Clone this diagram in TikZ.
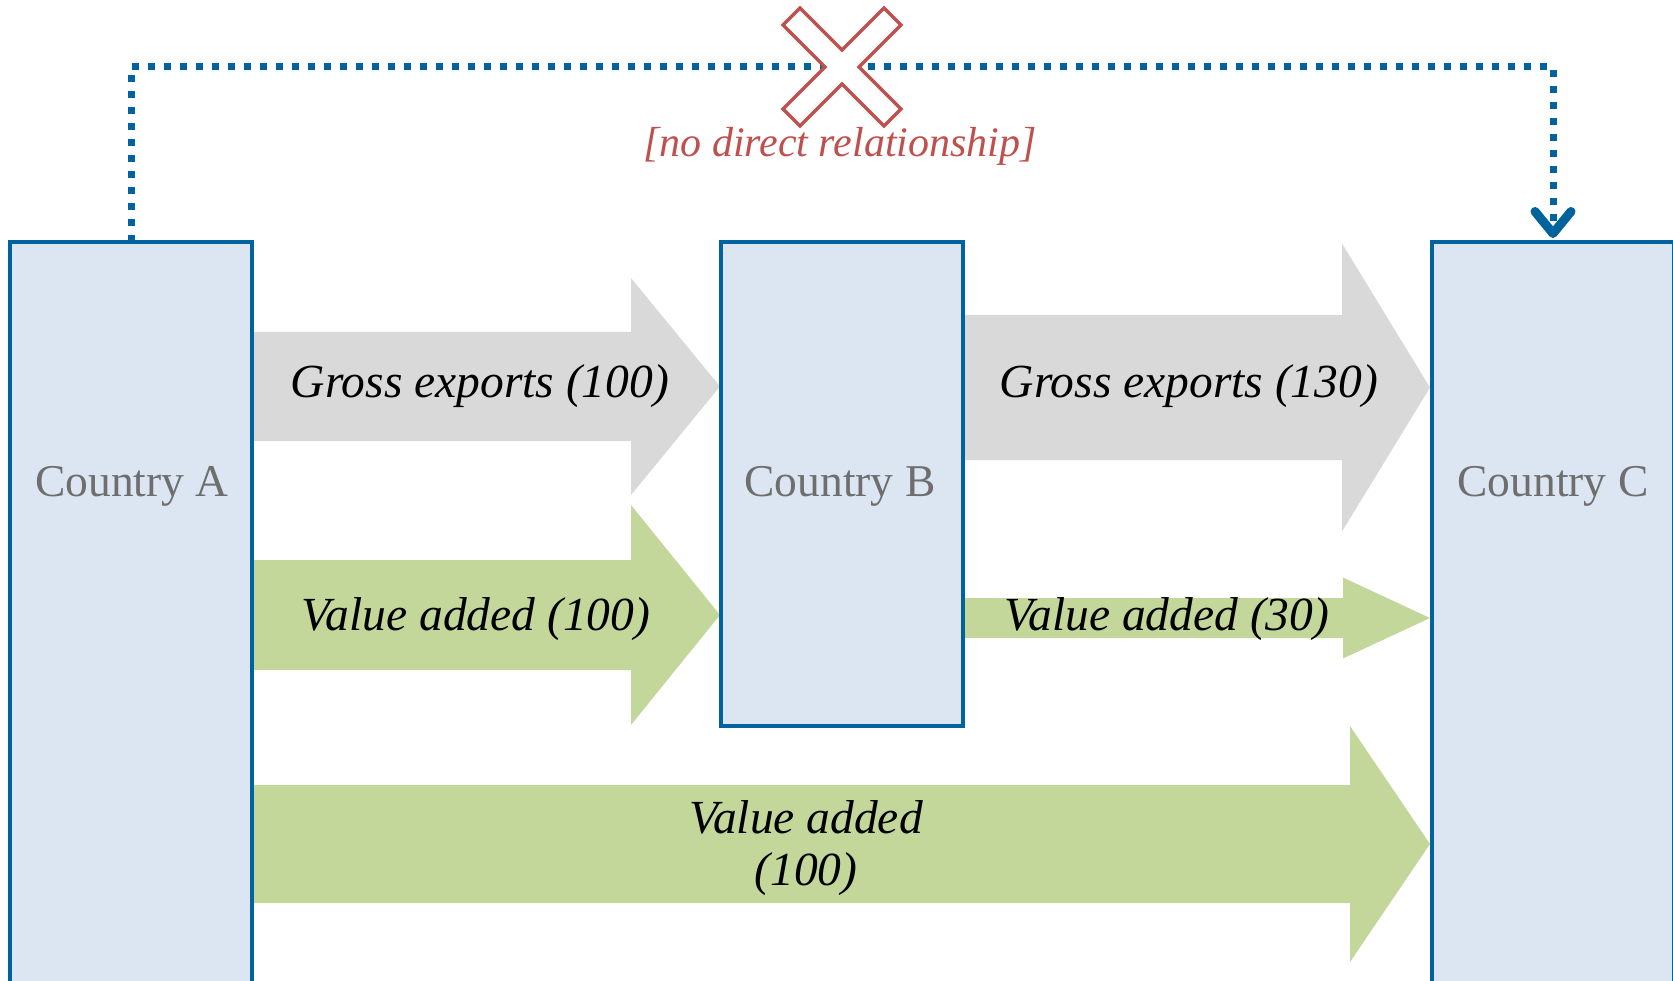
\documentclass[tikz,border=0pt]{standalone}
\usepackage{fontspec}
\setmainfont{Liberation Serif}
\usetikzlibrary{arrows.meta}
\definecolor{boxblue}{RGB}{220,230,242}
\definecolor{borderblue}{RGB}{0,99,158}
\definecolor{arrgray}{RGB}{217,217,217}
\definecolor{arrgreen}{RGB}{196,215,155}
\definecolor{txtgray}{RGB}{110,110,110}
\definecolor{xred}{RGB}{192,80,77}
% style, x0, xhead, xtip, yc, bodyhalf, headhalf
\newcommand\blockarrow[7]{%
  \fill[#1] (#2,#5-#6) -- (#3,#5-#6) -- (#3,#5-#7) -- (#4,#5) -- (#3,#5+#7) -- (#3,#5+#6) -- (#2,#5+#6) -- cycle;}
\begin{document}
\begin{tikzpicture}[x=1pt,y=-1pt,
  country/.style={draw=borderblue, fill=boxblue, line width=3.5pt, minimum width=242pt, inner sep=0pt, outer sep=0pt},
  grayarrow/.style={fill=arrgray},
  greenarrow/.style={fill=arrgreen},
  lbl/.style={font=\fontsize{47.5}{52}\selectfont\itshape, text=black, inner sep=0pt},
  ctext/.style={font=\fontsize{45.5}{52}\selectfont, text=txtgray, inner sep=0pt},
  redtext/.style={font=\fontsize{42}{48}\selectfont\itshape, text=xred, inner sep=0pt},
  dotline/.style={draw=borderblue, line width=7pt, dash pattern=on 7pt off 9pt}]
\useasboundingbox (0,0) rectangle (1673,981);
\clip (0,0) rectangle (1673,981);
% block arrows
\blockarrow{grayarrow}{250}{631}{720}{386.5}{54.5}{108.5}
\blockarrow{greenarrow}{250}{631}{720}{615}{55}{110}
\blockarrow{grayarrow}{961}{1342}{1430}{387.5}{72.5}{144}
\blockarrow{greenarrow}{961}{1343}{1430}{618}{20}{40.5}
\blockarrow{greenarrow}{250}{1350}{1430}{844}{59}{118}
% country boxes
\node[country, minimum height=760pt] (A) at (131,622) {};
\node[country, minimum height=484pt] (B) at (842,484) {};
\node[country, minimum height=760pt] (C) at (1553,622) {};
\node[ctext, anchor=base] (At) at (132,496) {Country A};
\node[ctext, anchor=base] (Bt) at (840,496) {Country B};
\node[ctext, anchor=base] (Ct) at (1553,496) {Country C};
% labels
\node[lbl, anchor=base] (g1) at (480,398) {Gross exports (100)};
\node[lbl, anchor=base] (v1) at (476,630) {Value added (100)};
\node[lbl, anchor=base] (g2) at (1189,398) {Gross exports (130)};
\node[lbl, anchor=base] (v2) at (1167,630) {Value added (30)};
\node[lbl, align=center] (v3) at (806,848) {Value added\\(100)};
% dotted relation
\draw[dotline, -{Straight Barb[length=22pt,width=36pt,line width=9pt,line cap=round,line join=round]}] (A.north) -- ++(0,-175) -| ([yshift=4pt]C.north);
% cross
\draw[xred, line width=3.5pt, fill=white, shift={(842,67)}]
  (0,-17) -- (42,-59) -- (59,-42) -- (17,0) -- (59,42) -- (42,59) -- (0,17)
  -- (-42,59) -- (-59,42) -- (-17,0) -- (-59,-42) -- (-42,-59) -- cycle;
\node[redtext, anchor=base] (nd) at (840,157) {[no direct relationship]};
\end{tikzpicture}
\end{document}
